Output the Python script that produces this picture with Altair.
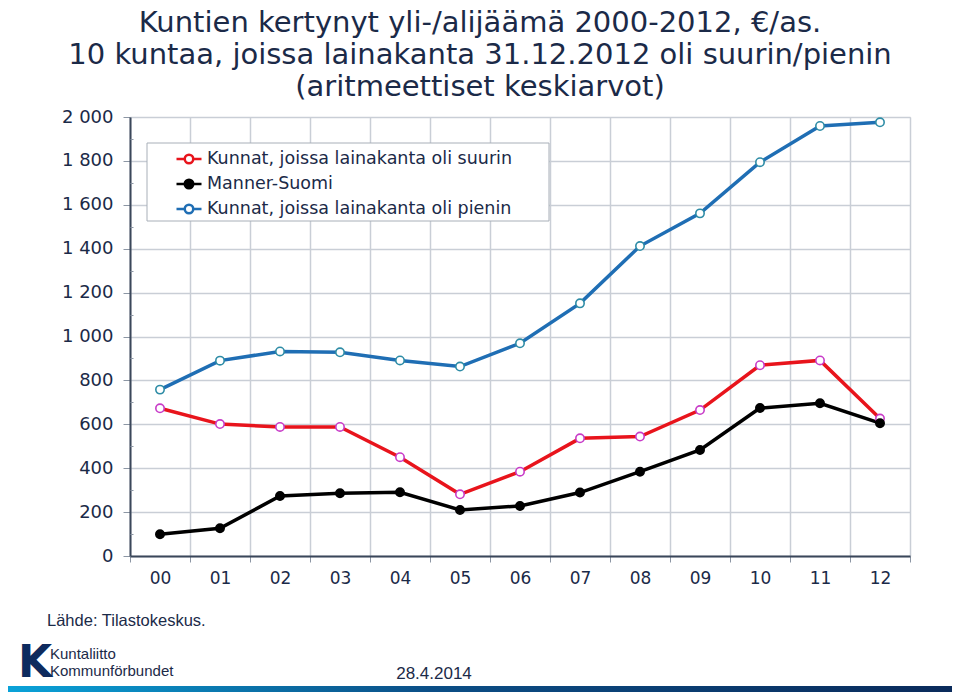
import altair as alt
import pandas as pd

years = ["00", "01", "02", "03", "04", "05", "06", "07", "08", "09", "10", "11", "12"]
series_names = [
    "Kunnat, joissa lainakanta oli suurin",
    "Manner-Suomi",
    "Kunnat, joissa lainakanta oli pienin",
]
suurin = [673, 601, 588, 588, 450, 281, 384, 536, 544, 665, 869, 891, 626]
manner = [99, 126, 273, 286, 290, 210, 228, 289, 384, 483, 674, 696, 605]
pienin = [758, 890, 932, 928, 891, 863, 969, 1151, 1412, 1561, 1794, 1959, 1976]

y_ticks = [0, 200, 400, 600, 800, 1000, 1200, 1400, 1600, 1800, 2000]
y_minor = [100, 300, 500, 700, 900, 1100, 1300, 1500, 1700, 1900]

title_lines = [
    "Kuntien kertynyt yli-/alijäämä 2000-2012, €/as.",
    "10 kuntaa, joissa lainakanta 31.12.2012 oli suurin/pienin",
    "(aritmeettiset keskiarvot)",
]
source_text = "Lähde: Tilastokeskus."
logo_lines = ["Kuntaliitto", "Kommunförbundet"]
date_text = "28.4.2014"

rows = []
for name, vals in zip(series_names, [suurin, manner, pienin]):
    for i, (yr, v) in enumerate(zip(years, vals)):
        rows.append({"idx": i, "year": yr, "value": v, "series": name})
df = pd.DataFrame(rows)

NAVY = "#1B2A48"
GRID = "#C9CED6"
FONT = "DejaVu Sans"

line_colors = ["#E8141C", "#000000", "#1F6EB4"]
marker_fill = ["#FFFFFF", "#000000", "#FFFFFF"]
marker_stroke = ["#C83CC8", "#000000", "#2E8CA6"]

boundaries = [i - 0.5 for i in range(len(years) + 1)]
label_arr = "[" + ",".join("'" + y + "'" for y in years) + "]"

x_enc = alt.X(
    "idx:Q",
    scale=alt.Scale(domain=[-0.5, len(years) - 0.5], nice=False, zero=False),
    axis=alt.Axis(
        values=boundaries,
        labelExpr=label_arr + "[round(datum.value + 0.5)] || ''",
        labelOffset=30,
        labelPadding=8,
        tickSize=6,
        tickColor="#8C96A4",
        grid=True,
        gridColor=GRID,
        gridWidth=1.5,
        domainColor="#3A475A",
        domainWidth=2,
        labelFont=FONT,
        labelFontSize=17,
        labelColor=NAVY,
        title=None,
        labelFlush=False,
        labelOverlap=False,
    ),
)

y_scale = alt.Scale(domain=[0, 2000], nice=False)
y_enc = alt.Y(
    "value:Q",
    scale=y_scale,
    axis=alt.Axis(
        values=y_ticks,
        labelExpr="replace(format(datum.value, ','), ',', ' ')",
        tickSize=7,
        tickColor="#8C96A4",
        labelPadding=10,
        grid=True,
        gridColor=GRID,
        gridWidth=1.5,
        domainColor="#3A475A",
        domainWidth=2,
        labelFont=FONT,
        labelFontSize=18,
        labelColor=NAVY,
        title=None,
    ),
)

sym_path = "M-1,0H-0.34M0.34,0H1M0.34,0A0.34,0.34,0,1,1,-0.34,0A0.34,0.34,0,1,1,0.34,0Z"

legend = alt.Legend(
    orient="none",
    legendX=45,
    legendY=28,
    title=None,
    symbolType=sym_path,
    symbolSize=625,
    symbolStrokeWidth=2.5,
    labelFont=FONT,
    labelFontSize=17.5,
    labelColor=NAVY,
    labelOffset=4,
    labelLimit=500,
    rowPadding=1,
    padding=0,
    zindex=2,
)

lines = alt.Chart(df).mark_line(strokeWidth=3.5).encode(
    x=x_enc,
    y=y_enc,
    color=alt.Color(
        "series:N",
        scale=alt.Scale(domain=series_names, range=line_colors),
        legend=legend,
    ),
    detail="series:N",
)

points = alt.Chart(df).mark_point(filled=False, size=70, strokeWidth=1.6, opacity=1).encode(
    x="idx:Q",
    y=alt.Y("value:Q", scale=y_scale, axis=None),
    fill=alt.Fill("series:N", scale=alt.Scale(domain=series_names, range=marker_fill), legend=legend),
    stroke=alt.Stroke("series:N", scale=alt.Scale(domain=series_names, range=marker_stroke), legend=None),
)

minor_axis = alt.Chart(pd.DataFrame({"value": y_minor})).mark_point(opacity=0).encode(
    y=alt.Y(
        "value:Q",
        scale=y_scale,
        axis=alt.Axis(
            orient="left",
            values=y_minor,
            labels=False,
            domain=False,
            grid=False,
            tickSize=3,
            offset=-3,
            tickColor="#8C96A4",
            title=None,
        ),
    ),
)

one = pd.DataFrame({"k": [0]})
legend_box = alt.Chart(one).mark_rect(fill="white", stroke="#A8AFB8", strokeWidth=1).encode(
    x=alt.value(17), x2=alt.value(419), y=alt.value(26), y2=alt.value(104)
)

src = alt.Chart(one).mark_text(
    text=source_text, align="left", baseline="alphabetic", font="Liberation Sans", fontSize=16.5, color=NAVY
).encode(x=alt.value(-83), y=alt.value(509))

logo_k = alt.Chart(one).mark_text(
    text="K", align="left", baseline="alphabetic", font="DejaVu Sans", fontWeight="bold", fontSize=44, color="#0E2B5E"
).encode(x=alt.value(-112), y=alt.value(560))

logo1 = alt.Chart(one).mark_text(
    text=logo_lines[0], align="left", baseline="alphabetic", font="Liberation Sans", fontSize=15, color=NAVY
).encode(x=alt.value(-80), y=alt.value(542))
logo2 = alt.Chart(one).mark_text(
    text=logo_lines[1], align="left", baseline="alphabetic", font="Liberation Sans", fontSize=15, color=NAVY
).encode(x=alt.value(-80), y=alt.value(559))

date = alt.Chart(one).mark_text(
    text=date_text, align="center", baseline="alphabetic", font="Liberation Sans", fontSize=17, color=NAVY
).encode(x=alt.value(304), y=alt.value(562))

bar = alt.Chart(one).mark_rect(
    color=alt.LinearGradient(
        gradient="linear",
        x1=0, x2=1, y1=0, y2=0,
        stops=[
            alt.GradientStop(offset=0, color="#0AA4DA"),
            alt.GradientStop(offset=0.45, color="#0B4E86"),
            alt.GradientStop(offset=1, color="#0A2A5A"),
        ],
    )
).encode(x=alt.value(-130), x2=alt.value(830), y=alt.value(569), y2=alt.value(590))

chart = (
    alt.layer(lines, minor_axis, legend_box, points, src, logo_k, logo1, logo2, date, bar)
    .resolve_axis(y="independent")
    .properties(
        width=780,
        height=439,
        padding={"left": 122, "top": 109, "right": 42, "bottom": 136},
        autosize=alt.AutoSizeParams(type="none"),
        title=alt.TitleParams(
            text=title_lines,
            anchor="middle",
            dx=-40,
            offset=6,
            font="DejaVu Sans",
            fontSize=29,
            fontWeight="normal",
            lineHeight=32,
            color=NAVY,
        ),
    )
    .configure_view(stroke="#3A475A", strokeWidth=1.5)
    .configure(background="white")
)

chart.save("out.html", embed_options={"renderer": "svg", "actions": False})
